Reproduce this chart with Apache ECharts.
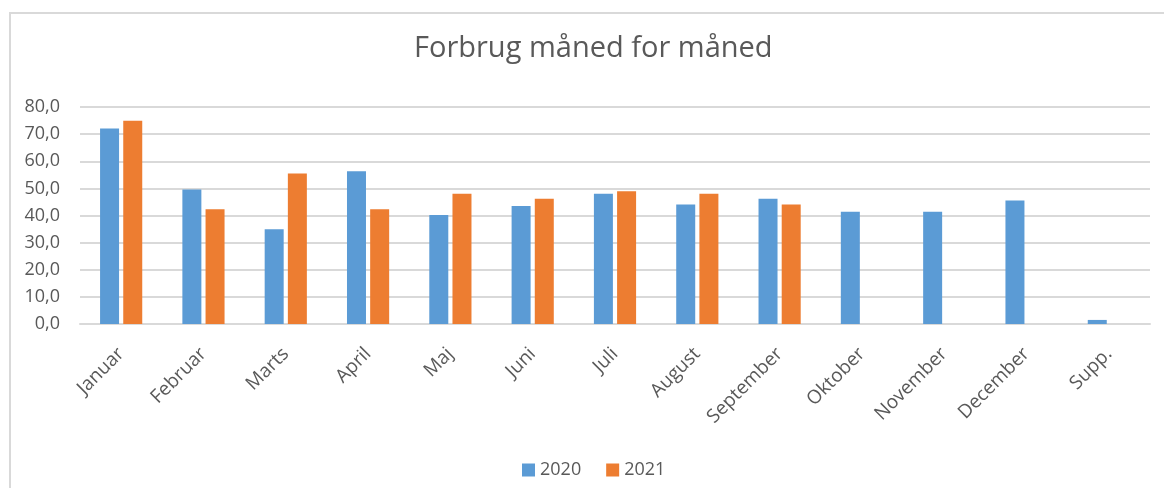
<!DOCTYPE html>
<html>
<head>
<meta charset="utf-8">
<script src="https://cdn.jsdelivr.net/npm/echarts@6/dist/echarts.min.js"></script>
<style>
  html, body { margin: 0; padding: 0; background: #fff; }
  #frame {
    position: absolute; left: 9px; top: 12px; right: 0; bottom: 0;
    border-top: 2px solid #d9d9d9; border-left: 2px solid #d9d9d9;
  }
  #chart { position: absolute; left: 0; top: 0; width: 1164px; height: 488px; }
</style>
</head>
<body>
<div id="frame"></div>
<div id="chart"></div>
<script>
  // Måneder og forbrug
  const months = ['Januar', 'Februar', 'Marts', 'April', 'Maj', 'Juni', 'Juli',
    'August', 'September', 'Oktober', 'November', 'December', 'Supp.'];
  const values2020 = [72.1, 49.6, 34.9, 56.3, 40.2, 43.5, 48.0, 44.1, 46.2, 41.4, 41.4, 45.5, 1.5];
  const values2021 = [74.9, 42.3, 55.5, 42.3, 48.0, 46.2, 48.9, 48.0, 44.1, null, null, null, null];

  const font = '"Open Sans", "Noto Sans", sans-serif';
  const textColor = '#595959';
  const lineColor = '#d9d9d9';

  const chart = echarts.init(document.getElementById('chart'), null, { renderer: 'canvas' });

  const option = {
    animation: false,
    textStyle: { fontFamily: font },
    title: {
      text: 'Forbrug måned for måned',
      left: 409,
      top: 29,
      textStyle: { fontFamily: font, fontSize: 29, fontWeight: 'normal', color: textColor }
    },
    legend: {
      left: 517,
      top: 456,
      itemWidth: 13,
      itemHeight: 13,
      itemGap: 25,
      icon: 'rect',
      textStyle: { fontFamily: font, fontSize: 18, color: textColor },
      data: ['2020', '2021']
    },
    grid: { left: 80, right: 14, top: 107, bottom: 164, containLabel: false },
    xAxis: {
      type: 'category',
      data: months,
      axisTick: { show: false },
      axisLine: { lineStyle: { color: lineColor, width: 2 } },
      axisLabel: { rotate: 45, fontSize: 19, color: textColor, margin: 27, interval: 0 }
    },
    yAxis: {
      type: 'value',
      min: 0,
      max: 80,
      interval: 10,
      axisLine: { show: false },
      axisTick: { show: false },
      splitLine: { lineStyle: { color: lineColor, width: 2 } },
      axisLabel: {
        fontSize: 18,
        color: textColor,
        margin: 20,
        formatter: function (v) { return v.toFixed(1).replace('.', ','); }
      }
    },
    series: [
      {
        name: '2020',
        type: 'bar',
        data: values2020,
        barWidth: 19,
        barGap: '22%',
        itemStyle: { color: '#5b9bd5' }
      },
      {
        name: '2021',
        type: 'bar',
        data: values2021,
        barWidth: 19,
        itemStyle: { color: '#ed7d31' }
      }
    ]
  };

  chart.setOption(option);
</script>
</body>
</html>
